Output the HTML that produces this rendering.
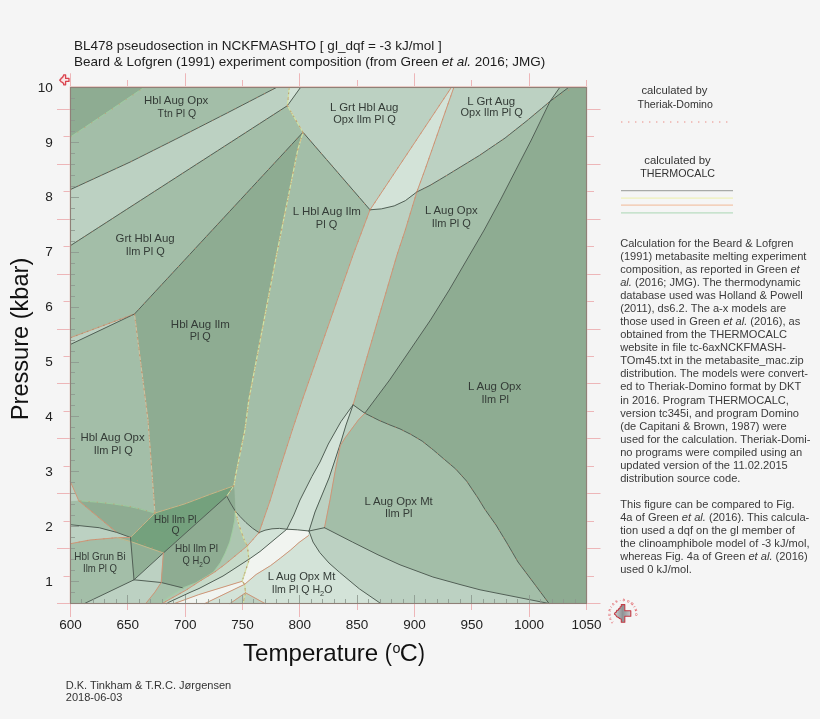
<!DOCTYPE html>
<html><head><meta charset="utf-8"><title>BL478 pseudosection</title>
<style>
html,body{margin:0;padding:0;background:#f5f5f5;}
body{width:820px;height:719px;position:relative;overflow:hidden;font-family:"Liberation Sans",Arial,sans-serif;color:#222;}
</style></head><body>
<svg width="820" height="719" viewBox="0 0 820 719" style="position:absolute;left:0;top:0;will-change:transform">
<g shape-rendering="geometricPrecision">
<polygon points="70.5,87.5 586.5,87.5 586.5,603.5 70.5,603.5" fill="#8eac92" stroke="#8eac92" stroke-width="0.3"/>
<polygon points="70.5,137.0 144.0,87.5 276.4,87.5 230.0,111.5 180.0,137.0 130.0,162.1 70.5,189.5" fill="#a3bea8" stroke="#a3bea8" stroke-width="0.3"/>
<polygon points="70.5,189.5 130.0,162.1 180.0,137.0 230.0,111.5 276.4,87.5 289.2,87.5 287.4,105.7 70.5,245.6" fill="#bcd1c2" stroke="#bcd1c2" stroke-width="0.3"/>
<polygon points="289.2,87.5 300.5,87.5 287.4,105.7" fill="#d3e3d8" stroke="#d3e3d8" stroke-width="0.3"/>
<polygon points="300.5,87.5 451.3,87.5 370.0,209.8 303.0,132.3 287.4,105.7" fill="#bcd1c2" stroke="#bcd1c2" stroke-width="0.3"/>
<polygon points="70.5,245.6 287.4,105.7 303.0,132.3 134.5,314.0 70.5,337.7" fill="#a3bea8" stroke="#a3bea8" stroke-width="0.3"/>
<polygon points="70.5,337.7 134.5,314.0 70.5,344.4" fill="#bcd1c2" stroke="#bcd1c2" stroke-width="0.3"/>
<polygon points="303.0,132.3 370.0,209.8 353.0,255.0 302.3,400.0 292.3,430.0 279.4,470.0 270.3,500.0 259.0,532.6 252.5,528.2 246.0,522.6 240.0,516.5 235.3,511.1 234.4,493.0 233.9,485.8 235.7,475.0 244.9,430.0 248.8,400.0 276.5,255.0 297.7,150.0 303.0,132.3" fill="#a3bea8" stroke="#a3bea8" stroke-width="0.3"/>
<polygon points="370.0,209.8 381.3,208.9 394.2,205.9 405.3,200.7 416.8,192.0 424.9,170.0 453.8,87.5 451.3,87.5" fill="#d3e3d8" stroke="#d3e3d8" stroke-width="0.3"/>
<polygon points="370.0,209.8 381.3,208.9 394.2,205.9 405.3,200.7 416.8,192.0 405.3,230.0 397.0,255.0 360.3,380.0 353.1,404.8 340.9,421.7 328.3,444.0 320.0,462.0 311.9,476.5 300.0,500.0 293.8,515.0 286.8,529.2 279.5,528.4 272.0,528.8 265.0,530.2 259.0,532.6 270.3,500.0 279.4,470.0 292.3,430.0 302.3,400.0 353.0,255.0 370.0,209.8" fill="#bcd1c2" stroke="#bcd1c2" stroke-width="0.3"/>
<polygon points="353.1,404.8 340.9,421.7 328.3,444.0 320.0,462.0 311.9,476.5 300.0,500.0 293.8,515.0 286.8,529.2 297.3,529.8 309.0,531.0 315.0,512.0 322.0,495.0 329.0,478.0 335.0,460.0 341.5,440.0 346.0,425.0 353.1,404.8" fill="#d3e3d8" stroke="#d3e3d8" stroke-width="0.3"/>
<polygon points="353.1,404.8 364.8,413.2 358.3,420.0 345.0,438.0 340.3,445.7 335.1,471.5 330.0,500.0 324.5,527.7 309.0,531.0 315.0,512.0 322.0,495.0 329.0,478.0 335.0,460.0 341.5,440.0 346.0,425.0 353.1,404.8" fill="#bcd1c2" stroke="#bcd1c2" stroke-width="0.3"/>
<polygon points="416.8,192.0 430.0,185.4 446.6,175.5 479.5,155.4 505.1,138.0 527.1,120.6 550.0,101.4 531.3,140.0 500.4,200.0 484.2,230.0 469.6,255.0 449.2,290.0 430.5,320.0 410.1,350.0 389.6,380.0 364.8,413.2 353.1,404.8 360.3,380.0 397.0,255.0 405.3,230.0 416.8,192.0" fill="#a3bea8" stroke="#a3bea8" stroke-width="0.3"/>
<polygon points="416.8,192.0 424.9,170.0 453.8,87.5 559.7,87.5 550.0,101.4 527.1,120.6 505.1,138.0 479.5,155.4 446.6,175.5 430.0,185.4 416.8,192.0" fill="#bcd1c2" stroke="#bcd1c2" stroke-width="0.3"/>
<polygon points="550.0,101.4 559.7,87.5 568.5,87.5" fill="#a3bea8" stroke="#a3bea8" stroke-width="0.3"/>
<polygon points="364.8,413.2 378.9,420.3 390.0,425.0 400.0,428.9 411.1,434.5 422.2,441.1 433.4,450.0 444.5,459.5 455.6,468.9 466.7,481.2 477.9,497.9 485.0,509.5 496.0,525.0 506.8,542.8 518.0,562.0 533.0,582.0 549.0,603.5 480.0,589.8 460.0,584.5 432.9,577.0 400.0,564.8 378.0,554.8 352.4,542.0 324.5,527.7 330.0,500.0 335.1,471.5 340.3,445.7 345.0,438.0 358.3,420.0" fill="#a3bea8" stroke="#a3bea8" stroke-width="0.3"/>
<polygon points="309.0,531.0 324.5,527.7 352.4,542.0 378.0,554.8 400.0,564.8 432.9,577.0 460.0,584.5 480.0,589.8 549.0,603.5 380.8,603.5 359.3,588.8 339.5,572.3 329.0,563.0 319.8,552.6 313.0,542.0 309.0,531.0" fill="#bcd1c2" stroke="#bcd1c2" stroke-width="0.3"/>
<polygon points="70.5,344.4 134.5,314.0 148.0,420.0 155.0,513.0 140.3,509.1 130.0,506.6 115.0,504.2 99.2,502.3 78.8,500.8 70.5,481.8" fill="#a3bea8" stroke="#a3bea8" stroke-width="0.3"/>
<polygon points="70.5,481.8 78.8,500.8 70.5,501.8" fill="#bcd1c2" stroke="#bcd1c2" stroke-width="0.3"/>
<polygon points="70.5,501.8 78.8,500.8 116.7,532.4 99.2,527.7 70.5,524.7" fill="#a3bea8" stroke="#a3bea8" stroke-width="0.3"/>
<polygon points="155.0,513.0 140.3,509.1 130.0,506.6 115.0,504.2 99.2,502.3 78.8,500.8 116.7,532.4 130.5,537.4" fill="#8eac92" stroke="#8eac92" stroke-width="0.3"/>
<polygon points="70.5,524.7 99.2,527.7 116.7,532.4 130.5,537.4 116.7,537.7 90.0,540.0 70.5,543.7" fill="#bcd1c2" stroke="#bcd1c2" stroke-width="0.3"/>
<polygon points="70.5,543.7 90.0,540.0 116.7,537.7 130.5,537.4 134.0,579.8 84.6,603.5 70.5,603.5" fill="#a3bea8" stroke="#a3bea8" stroke-width="0.3"/>
<polygon points="155.0,513.0 185.0,503.8 210.0,494.4 233.9,485.8 226.7,496.2 163.4,553.0 130.8,541.6 130.5,537.4" fill="#74a17d" stroke="#74a17d" stroke-width="0.3"/>
<polygon points="117.3,537.6 130.5,537.4 130.8,541.6 163.4,553.0 134.0,579.8 131.6,541.8" fill="#90af95" stroke="#90af95" stroke-width="0.3"/>
<polygon points="163.4,553.0 161.2,582.5 134.0,579.8" fill="#bcd1c2" stroke="#bcd1c2" stroke-width="0.3"/>
<polygon points="134.0,579.8 161.2,582.5 155.0,592.0 145.8,603.5 84.6,603.5" fill="#bcd1c2" stroke="#bcd1c2" stroke-width="0.3"/>
<polygon points="161.2,582.5 182.9,587.9 159.4,603.5 145.8,603.5 155.0,592.0" fill="#a6c1aa" stroke="#a6c1aa" stroke-width="0.3"/>
<polygon points="233.9,485.8 235.3,511.1 234.8,520.0 232.8,530.0 229.8,542.0 225.3,553.0 220.3,562.9 213.5,572.0 206.3,576.6 195.5,583.0 182.9,587.9 161.2,582.5 163.4,553.0 226.7,496.2" fill="#8eac92" stroke="#8eac92" stroke-width="0.3"/>
<polygon points="235.3,511.1 239.0,525.0 244.3,540.0 247.4,545.8 225.0,564.3 214.6,572.1 200.0,581.0 186.6,589.8 162.2,603.5 159.4,603.5 170.0,596.0 182.9,587.9 195.5,583.0 206.3,576.6 213.5,572.0 220.3,562.9 225.3,553.0 229.8,542.0 232.8,530.0 234.8,520.0" fill="#acc6b0" stroke="#acc6b0" stroke-width="0.3"/>
<polygon points="235.3,511.1 240.0,516.5 246.0,522.6 252.5,528.2 259.0,532.6 247.4,545.8 244.3,540.0 239.0,525.0" fill="#bcd1c2" stroke="#bcd1c2" stroke-width="0.3"/>
<polygon points="259.0,532.6 265.0,530.2 272.0,528.8 279.5,528.4 286.8,529.2 260.0,551.5 250.0,558.5 230.0,571.5 223.0,576.0 199.0,588.5 190.0,592.4 168.3,602.5 167.0,603.5 162.2,603.5 186.6,589.8 200.0,581.0 214.6,572.1 225.0,564.3 247.4,545.8" fill="#c6dac9" stroke="#c6dac9" stroke-width="0.3"/>
<polygon points="259.0,532.6 265.0,530.2 272.0,528.8 279.5,528.4 286.8,529.2 260.0,551.5 250.0,558.5 247.4,545.8" fill="#d3e3d8" stroke="#d3e3d8" stroke-width="0.3"/>
<polygon points="286.8,529.2 297.3,529.8 309.0,531.0 308.5,535.6 299.0,542.5 290.6,550.0 280.5,558.0 270.6,565.6 256.1,574.5 244.7,584.3 204.9,603.5 174.4,603.5 198.8,594.6 242.1,581.3 248.9,560.4 250.0,558.5 260.0,551.5" fill="#f1f4f0" stroke="#f1f4f0" stroke-width="0.3"/>
<polygon points="250.0,558.5 230.0,571.5 223.0,576.0 199.0,588.5 190.0,592.4 168.3,602.5 167.0,603.5 174.4,603.5 198.8,594.6 242.1,581.3 248.9,560.4" fill="#d6e5d9" stroke="#d6e5d9" stroke-width="0.3"/>
<polygon points="309.0,531.0 313.0,542.0 319.8,552.6 329.0,563.0 339.5,572.3 359.3,588.8 380.7,603.5 265.0,603.5 245.5,592.8 244.7,584.3 256.1,574.5 270.6,565.6 280.5,558.0 290.6,550.0 299.0,542.5 308.5,535.6" fill="#d3e3d8" stroke="#d3e3d8" stroke-width="0.3"/>
<polygon points="244.7,584.3 245.5,592.8 230.1,603.5 204.9,603.5" fill="#d3e3d8" stroke="#d3e3d8" stroke-width="0.3"/>
<polygon points="245.5,592.8 265.0,603.5 230.1,603.5" fill="#bcd1c2" stroke="#bcd1c2" stroke-width="0.3"/>
</g>
<g fill="none" stroke-linejoin="round" stroke-linecap="round">
<path d="M70.5,137.0 L144.0,87.5" stroke="#9fd09f" stroke-width="0.8"/>
<path d="M70.5,189.5 L130.0,162.1 L180.0,137.0 L230.0,111.5 L276.4,87.5" stroke="#526056" stroke-width="1.0"/>
<path d="M70.5,245.6 L287.4,105.7" stroke="#526056" stroke-width="1.0"/>
<path d="M287.4,105.7 L300.5,87.5" stroke="#526056" stroke-width="1.0"/>
<path d="M287.4,105.7 L289.2,87.5" stroke="#d2e3a4" stroke-width="1.2"/>
<path d="M287.4,105.7 L303.0,132.3" stroke="#d2e3a4" stroke-width="1.2"/>
<path d="M303.0,132.3 L134.5,314.0" stroke="#526056" stroke-width="1.0"/>
<path d="M303.0,132.3 L370.0,209.8" stroke="#526056" stroke-width="1.0"/>
<path d="M303.0,132.3 L297.7,150.0 L276.5,255.0 L248.8,400.0 L244.9,430.0 L235.7,475.0 L233.9,485.8" stroke="#d2e3a4" stroke-width="1.2"/>
<path d="M134.5,314.0 L148.0,420.0 L155.0,513.0" stroke="#d6c3a0" stroke-width="0.9"/>
<path d="M70.5,337.7 L134.5,314.0" stroke="#d09678" stroke-width="0.9"/>
<path d="M134.5,314.0 L70.5,344.4" stroke="#526056" stroke-width="1.0"/>
<path d="M370.0,209.8 L451.3,87.5" stroke="#d09678" stroke-width="1.0"/>
<path d="M370.0,209.8 L353.0,255.0 L302.3,400.0 L292.3,430.0 L279.4,470.0 L270.3,500.0 L259.0,532.6" stroke="#d09678" stroke-width="1.0"/>
<path d="M370.0,209.8 L381.3,208.9 L394.2,205.9 L405.3,200.7 L416.8,192.0" stroke="#526056" stroke-width="1.0"/>
<path d="M453.8,87.5 L424.9,170.0 L416.8,192.0 L405.3,230.0 L397.0,255.0 L360.3,380.0 L353.1,404.8" stroke="#d09678" stroke-width="1.0"/>
<path d="M416.8,192.0 L430.0,185.4 L446.6,175.5 L479.5,155.4 L505.1,138.0 L527.1,120.6 L550.0,101.4 L568.5,87.5" stroke="#526056" stroke-width="1.0"/>
<path d="M559.7,87.5 L550.0,101.4 L531.3,140.0 L500.4,200.0 L484.2,230.0 L469.6,255.0 L449.2,290.0 L430.5,320.0 L410.1,350.0 L389.6,380.0 L364.8,413.2" stroke="#526056" stroke-width="1.0"/>
<path d="M353.1,404.8 L364.8,413.2" stroke="#526056" stroke-width="1.0"/>
<path d="M353.1,404.8 L340.9,421.7 L328.3,444.0 L320.0,462.0 L311.9,476.5 L300.0,500.0 L293.8,515.0 L286.8,529.2" stroke="#526056" stroke-width="1.0"/>
<path d="M353.1,404.8 L346.0,425.0 L341.5,440.0 L335.0,460.0 L329.0,478.0 L322.0,495.0 L315.0,512.0 L309.0,531.0" stroke="#526056" stroke-width="1.0"/>
<path d="M364.8,413.2 L358.3,420.0 L345.0,438.0 L340.3,445.7 L335.1,471.5 L330.0,500.0 L324.5,527.7" stroke="#d09678" stroke-width="1.0"/>
<path d="M364.8,413.2 L378.9,420.3 L390.0,425.0 L400.0,428.9 L411.1,434.5 L422.2,441.1 L433.4,450.0 L444.5,459.5 L455.6,468.9 L466.7,481.2 L477.9,497.9 L485.0,509.5 L496.0,525.0 L506.8,542.8 L518.0,562.0 L533.0,582.0 L549.0,603.5" stroke="#526056" stroke-width="1.0"/>
<path d="M324.5,527.7 L352.4,542.0 L378.0,554.8 L400.0,564.8 L432.9,577.0 L460.0,584.5 L480.0,589.8 L549.0,603.5" stroke="#526056" stroke-width="1.0"/>
<path d="M309.0,531.0 L313.0,542.0 L319.8,552.6 L329.0,563.0 L339.5,572.3 L359.3,588.8 L380.7,603.5" stroke="#526056" stroke-width="1.0"/>
<path d="M309.0,531.0 L324.5,527.7" stroke="#526056" stroke-width="1.0"/>
<path d="M70.5,481.8 L78.8,500.8" stroke="#d09678" stroke-width="1.0"/>
<path d="M155.0,513.0 L140.3,509.1 L130.0,506.6 L115.0,504.2 L99.2,502.3 L78.8,500.8" stroke="#9fd09f" stroke-width="0.8"/>
<path d="M78.8,500.8 L116.7,532.4" stroke="#d09678" stroke-width="1.0"/>
<path d="M70.5,524.7 L99.2,527.7 L116.7,532.4 L130.5,537.4" stroke="#526056" stroke-width="1.0"/>
<path d="M70.5,543.7 L90.0,540.0 L116.7,537.7 L130.5,537.4" stroke="#d09678" stroke-width="1.0"/>
<path d="M155.0,513.0 L130.5,537.4" stroke="#c4b88a" stroke-width="1.0"/>
<path d="M117.3,537.6 L130.8,541.6 L163.4,553.0" stroke="#c4b88a" stroke-width="1.0"/>
<path d="M130.5,537.4 L134.0,579.8" stroke="#526056" stroke-width="1.0"/>
<path d="M226.7,496.2 L163.4,553.0 L134.0,579.8 L84.6,603.5" stroke="#526056" stroke-width="1.0"/>
<path d="M163.4,553.0 L161.2,582.5" stroke="#d09678" stroke-width="1.0"/>
<path d="M134.0,579.8 L161.2,582.5 L182.9,587.9" stroke="#526056" stroke-width="1.0"/>
<path d="M161.2,582.5 L155.0,592.0 L145.8,603.5" stroke="#d09678" stroke-width="1.0"/>
<path d="M233.9,485.8 L210.0,494.4 L185.0,503.8 L155.0,513.0" stroke="#c4b88a" stroke-width="1.0"/>
<path d="M233.9,485.8 L226.7,496.2" stroke="#d2e3a4" stroke-width="1.0"/>
<path d="M226.7,496.2 L231.0,504.0 L235.3,511.1 L240.0,516.5 L246.0,522.6 L252.5,528.2 L259.0,532.6" stroke="#526056" stroke-width="1.0"/>
<path d="M235.3,511.1 L234.8,520.0 L232.8,530.0 L229.8,542.0 L225.3,553.0 L220.3,562.9 L213.5,572.0 L206.3,576.6 L195.5,583.0 L182.9,587.9 L170.0,596.0 L159.4,603.5" stroke="#9fd09f" stroke-width="0.8"/>
<path d="M235.3,511.1 L239.0,525.0 L244.3,540.0 L247.4,545.8 L248.9,560.4 L242.1,581.3 L244.7,584.3 L245.5,592.8 L243.0,603.5" stroke="#d2e3a4" stroke-width="1.2"/>
<path d="M259.0,532.6 L247.4,545.8 L225.0,564.3 L214.6,572.1 L200.0,581.0 L186.6,589.8 L162.2,603.5" stroke="#d09678" stroke-width="1.0"/>
<path d="M286.8,529.2 L260.0,551.5 L250.0,558.5 L230.0,571.5 L223.0,576.0 L199.0,588.5 L190.0,592.4 L168.3,602.5 L167.0,603.5" stroke="#526056" stroke-width="1.0"/>
<path d="M259.0,532.6 L265.0,530.2 L272.0,528.8 L279.5,528.4 L286.8,529.2 L297.3,529.8 L309.0,531.0" stroke="#526056" stroke-width="1.0"/>
<path d="M308.5,535.6 L299.0,542.5 L290.6,550.0 L280.5,558.0 L270.6,565.6 L256.1,574.5 L244.7,584.3" stroke="#d09678" stroke-width="1.0"/>
<path d="M242.1,581.3 L198.8,594.6 L174.4,603.5" stroke="#d09678" stroke-width="1.0"/>
<path d="M244.7,584.3 L204.9,603.5" stroke="#d09678" stroke-width="1.0"/>
<path d="M245.5,592.8 L230.1,603.5" stroke="#d09678" stroke-width="1.0"/>
<path d="M245.5,592.8 L265.0,603.5" stroke="#d09678" stroke-width="1.0"/>
</g>
<g fill="none" stroke="#cf8a66" stroke-width="1.1" stroke-dasharray="1.3 7" opacity="0.55">
<path d="M70.5,137.0 L144.0,87.5"/>
<path d="M70.5,189.5 L130.0,162.1 L180.0,137.0 L230.0,111.5 L276.4,87.5"/>
<path d="M70.5,245.6 L287.4,105.7 L289.2,87.5"/>
<path d="M287.4,105.7 L303.0,132.3 L370.0,209.8"/>
<path d="M303.0,132.3 L134.5,314.0"/>
<path d="M303.0,132.3 L297.7,150.0 L276.5,255.0 L248.8,400.0 L244.9,430.0 L235.7,475.0 L233.9,485.8"/>
<path d="M134.5,314.0 L148.0,420.0 L155.0,513.0"/>
<path d="M416.8,192.0 L430.0,185.4 L446.6,175.5 L479.5,155.4 L505.1,138.0 L527.1,120.6 L550.0,101.4 L572.8,87.5"/>
<path d="M364.8,413.2 L378.9,420.3 L390.0,425.0 L400.0,428.9 L411.1,434.5 L422.2,441.1 L433.4,450.0 L444.5,459.5 L455.6,468.9 L466.7,481.2 L477.9,497.9 L485.0,509.5 L496.0,525.0 L506.8,542.8 L518.0,562.0 L533.0,582.0 L549.0,603.5"/>
<path d="M155.0,513.0 L140.3,509.1 L130.0,506.6 L115.0,504.2 L99.2,502.3 L78.8,500.8"/>
<path d="M78.8,500.8 L116.7,532.4"/>
<path d="M70.5,543.7 L90.0,540.0 L116.7,537.7"/>
<path d="M155.0,513.0 L130.5,537.4 L163.4,553.0"/>
<path d="M233.9,485.8 L210.0,494.4 L185.0,503.8 L155.0,513.0"/>
<path d="M259.0,532.6 L247.4,545.8 L225.0,564.3 L214.6,572.1 L200.0,581.0 L186.6,589.8 L162.2,603.5"/>
<path d="M235.3,511.1 L239.0,525.0 L244.3,540.0 L247.4,545.8 L248.9,560.4 L242.1,581.3 L244.7,584.3 L245.5,592.8 L243.0,603.5"/>
<path d="M453.8,87.5 L424.9,170.0 L416.8,192.0 L405.3,230.0 L397.0,255.0 L360.3,380.0 L353.1,404.8"/>
<path d="M370.0,209.8 L353.0,255.0 L302.3,400.0 L292.3,430.0 L279.4,470.0 L270.3,500.0 L259.0,532.6"/>
<path d="M370.0,209.8 L451.3,87.5"/>
</g>
<g fill="none" stroke="#b08c66" stroke-width="1.1" stroke-dasharray="1.6 4.2" opacity="0.75">
<path d="M287.4,105.7 L289.2,87.5"/>
<path d="M287.4,105.7 L303.0,132.3"/>
<path d="M303.0,132.3 L297.7,150.0 L276.5,255.0 L248.8,400.0 L244.9,430.0 L235.7,475.0 L233.9,485.8"/>
<path d="M235.3,511.1 L239.0,525.0 L244.3,540.0 L247.4,545.8 L248.9,560.4 L242.1,581.3 L244.7,584.3 L245.5,592.8 L243.0,603.5"/>
<path d="M233.9,485.8 L226.7,496.2"/>
<path d="M134.5,314.0 L148.0,420.0 L155.0,513.0"/>
<path d="M70.5,337.7 L134.5,314.0"/>
</g>
<g stroke="#8d998f" stroke-width="1" opacity="0.85"><line x1="70.5" y1="98.5" x2="75.0" y2="98.5"/><line x1="70.5" y1="109.5" x2="75.0" y2="109.5"/><line x1="70.5" y1="120.5" x2="75.0" y2="120.5"/><line x1="70.5" y1="131.5" x2="75.0" y2="131.5"/><line x1="70.5" y1="142.5" x2="79.0" y2="142.5"/><line x1="70.5" y1="153.5" x2="75.0" y2="153.5"/><line x1="70.5" y1="164.5" x2="75.0" y2="164.5"/><line x1="70.5" y1="175.5" x2="75.0" y2="175.5"/><line x1="70.5" y1="186.5" x2="75.0" y2="186.5"/><line x1="70.5" y1="197.5" x2="79.0" y2="197.5"/><line x1="70.5" y1="208.5" x2="75.0" y2="208.5"/><line x1="70.5" y1="219.5" x2="75.0" y2="219.5"/><line x1="70.5" y1="230.5" x2="75.0" y2="230.5"/><line x1="70.5" y1="241.5" x2="75.0" y2="241.5"/><line x1="70.5" y1="252.5" x2="79.0" y2="252.5"/><line x1="70.5" y1="263.5" x2="75.0" y2="263.5"/><line x1="70.5" y1="274.5" x2="75.0" y2="274.5"/><line x1="70.5" y1="285.5" x2="75.0" y2="285.5"/><line x1="70.5" y1="296.5" x2="75.0" y2="296.5"/><line x1="70.5" y1="307.5" x2="79.0" y2="307.5"/><line x1="70.5" y1="318.5" x2="75.0" y2="318.5"/><line x1="70.5" y1="329.5" x2="75.0" y2="329.5"/><line x1="70.5" y1="340.5" x2="75.0" y2="340.5"/><line x1="70.5" y1="351.5" x2="75.0" y2="351.5"/><line x1="70.5" y1="362.5" x2="79.0" y2="362.5"/><line x1="70.5" y1="372.5" x2="75.0" y2="372.5"/><line x1="70.5" y1="383.5" x2="75.0" y2="383.5"/><line x1="70.5" y1="394.5" x2="75.0" y2="394.5"/><line x1="70.5" y1="405.5" x2="75.0" y2="405.5"/><line x1="70.5" y1="416.5" x2="79.0" y2="416.5"/><line x1="70.5" y1="427.5" x2="75.0" y2="427.5"/><line x1="70.5" y1="438.5" x2="75.0" y2="438.5"/><line x1="70.5" y1="449.5" x2="75.0" y2="449.5"/><line x1="70.5" y1="460.5" x2="75.0" y2="460.5"/><line x1="70.5" y1="471.5" x2="79.0" y2="471.5"/><line x1="70.5" y1="482.5" x2="75.0" y2="482.5"/><line x1="70.5" y1="493.5" x2="75.0" y2="493.5"/><line x1="70.5" y1="504.5" x2="75.0" y2="504.5"/><line x1="70.5" y1="515.5" x2="75.0" y2="515.5"/><line x1="70.5" y1="526.5" x2="79.0" y2="526.5"/><line x1="70.5" y1="537.5" x2="75.0" y2="537.5"/><line x1="70.5" y1="548.5" x2="75.0" y2="548.5"/><line x1="70.5" y1="559.5" x2="75.0" y2="559.5"/><line x1="70.5" y1="570.5" x2="75.0" y2="570.5"/><line x1="70.5" y1="581.5" x2="79.0" y2="581.5"/><line x1="70.5" y1="592.5" x2="75.0" y2="592.5"/><line x1="81.5" y1="603.5" x2="81.5" y2="599.0"/><line x1="93.5" y1="603.5" x2="93.5" y2="599.0"/><line x1="104.5" y1="603.5" x2="104.5" y2="599.0"/><line x1="116.5" y1="603.5" x2="116.5" y2="599.0"/><line x1="127.5" y1="603.5" x2="127.5" y2="595.0"/><line x1="139.5" y1="603.5" x2="139.5" y2="599.0"/><line x1="150.5" y1="603.5" x2="150.5" y2="599.0"/><line x1="162.5" y1="603.5" x2="162.5" y2="599.0"/><line x1="173.5" y1="603.5" x2="173.5" y2="599.0"/><line x1="185.5" y1="603.5" x2="185.5" y2="595.0"/><line x1="196.5" y1="603.5" x2="196.5" y2="599.0"/><line x1="208.5" y1="603.5" x2="208.5" y2="599.0"/><line x1="219.5" y1="603.5" x2="219.5" y2="599.0"/><line x1="231.5" y1="603.5" x2="231.5" y2="599.0"/><line x1="242.5" y1="603.5" x2="242.5" y2="595.0"/><line x1="253.5" y1="603.5" x2="253.5" y2="599.0"/><line x1="265.5" y1="603.5" x2="265.5" y2="599.0"/><line x1="276.5" y1="603.5" x2="276.5" y2="599.0"/><line x1="288.5" y1="603.5" x2="288.5" y2="599.0"/><line x1="299.5" y1="603.5" x2="299.5" y2="595.0"/><line x1="311.5" y1="603.5" x2="311.5" y2="599.0"/><line x1="322.5" y1="603.5" x2="322.5" y2="599.0"/><line x1="334.5" y1="603.5" x2="334.5" y2="599.0"/><line x1="345.5" y1="603.5" x2="345.5" y2="599.0"/><line x1="357.5" y1="603.5" x2="357.5" y2="595.0"/><line x1="368.5" y1="603.5" x2="368.5" y2="599.0"/><line x1="380.5" y1="603.5" x2="380.5" y2="599.0"/><line x1="391.5" y1="603.5" x2="391.5" y2="599.0"/><line x1="403.5" y1="603.5" x2="403.5" y2="599.0"/><line x1="414.5" y1="603.5" x2="414.5" y2="595.0"/><line x1="425.5" y1="603.5" x2="425.5" y2="599.0"/><line x1="437.5" y1="603.5" x2="437.5" y2="599.0"/><line x1="448.5" y1="603.5" x2="448.5" y2="599.0"/><line x1="460.5" y1="603.5" x2="460.5" y2="599.0"/><line x1="471.5" y1="603.5" x2="471.5" y2="595.0"/><line x1="483.5" y1="603.5" x2="483.5" y2="599.0"/><line x1="494.5" y1="603.5" x2="494.5" y2="599.0"/><line x1="506.5" y1="603.5" x2="506.5" y2="599.0"/><line x1="517.5" y1="603.5" x2="517.5" y2="599.0"/><line x1="529.5" y1="603.5" x2="529.5" y2="595.0"/><line x1="540.5" y1="603.5" x2="540.5" y2="599.0"/><line x1="552.5" y1="603.5" x2="552.5" y2="599.0"/><line x1="563.5" y1="603.5" x2="563.5" y2="599.0"/><line x1="575.5" y1="603.5" x2="575.5" y2="599.0"/></g>
<g stroke="#edb6b8" stroke-width="1"><line x1="57" y1="603.5" x2="70.5" y2="603.5"/><line x1="586.5" y1="603.5" x2="600.5" y2="603.5"/><line x1="63.5" y1="576.5" x2="70.5" y2="576.5"/><line x1="586.5" y1="576.5" x2="594" y2="576.5"/><line x1="57" y1="548.5" x2="70.5" y2="548.5"/><line x1="586.5" y1="548.5" x2="600.5" y2="548.5"/><line x1="63.5" y1="521.5" x2="70.5" y2="521.5"/><line x1="586.5" y1="521.5" x2="594" y2="521.5"/><line x1="57" y1="493.5" x2="70.5" y2="493.5"/><line x1="586.5" y1="493.5" x2="600.5" y2="493.5"/><line x1="63.5" y1="466.5" x2="70.5" y2="466.5"/><line x1="586.5" y1="466.5" x2="594" y2="466.5"/><line x1="57" y1="438.5" x2="70.5" y2="438.5"/><line x1="586.5" y1="438.5" x2="600.5" y2="438.5"/><line x1="63.5" y1="411.5" x2="70.5" y2="411.5"/><line x1="586.5" y1="411.5" x2="594" y2="411.5"/><line x1="57" y1="383.5" x2="70.5" y2="383.5"/><line x1="586.5" y1="383.5" x2="600.5" y2="383.5"/><line x1="63.5" y1="356.5" x2="70.5" y2="356.5"/><line x1="586.5" y1="356.5" x2="594" y2="356.5"/><line x1="57" y1="329.5" x2="70.5" y2="329.5"/><line x1="586.5" y1="329.5" x2="600.5" y2="329.5"/><line x1="63.5" y1="301.5" x2="70.5" y2="301.5"/><line x1="586.5" y1="301.5" x2="594" y2="301.5"/><line x1="57" y1="274.5" x2="70.5" y2="274.5"/><line x1="586.5" y1="274.5" x2="600.5" y2="274.5"/><line x1="63.5" y1="246.5" x2="70.5" y2="246.5"/><line x1="586.5" y1="246.5" x2="594" y2="246.5"/><line x1="57" y1="219.5" x2="70.5" y2="219.5"/><line x1="586.5" y1="219.5" x2="600.5" y2="219.5"/><line x1="63.5" y1="191.5" x2="70.5" y2="191.5"/><line x1="586.5" y1="191.5" x2="594" y2="191.5"/><line x1="57" y1="164.5" x2="70.5" y2="164.5"/><line x1="586.5" y1="164.5" x2="600.5" y2="164.5"/><line x1="63.5" y1="136.5" x2="70.5" y2="136.5"/><line x1="586.5" y1="136.5" x2="594" y2="136.5"/><line x1="57" y1="109.5" x2="70.5" y2="109.5"/><line x1="586.5" y1="109.5" x2="600.5" y2="109.5"/><line x1="70.5" y1="87.5" x2="70.5" y2="73.3"/><line x1="70.5" y1="603.5" x2="70.5" y2="617"/><line x1="127.5" y1="87.5" x2="127.5" y2="80"/><line x1="127.5" y1="603.5" x2="127.5" y2="610"/><line x1="185.5" y1="87.5" x2="185.5" y2="73.3"/><line x1="185.5" y1="603.5" x2="185.5" y2="617"/><line x1="242.5" y1="87.5" x2="242.5" y2="80"/><line x1="242.5" y1="603.5" x2="242.5" y2="610"/><line x1="299.5" y1="87.5" x2="299.5" y2="73.3"/><line x1="299.5" y1="603.5" x2="299.5" y2="617"/><line x1="357.5" y1="87.5" x2="357.5" y2="80"/><line x1="357.5" y1="603.5" x2="357.5" y2="610"/><line x1="414.5" y1="87.5" x2="414.5" y2="73.3"/><line x1="414.5" y1="603.5" x2="414.5" y2="617"/><line x1="471.5" y1="87.5" x2="471.5" y2="80"/><line x1="471.5" y1="603.5" x2="471.5" y2="610"/><line x1="529.5" y1="87.5" x2="529.5" y2="73.3"/><line x1="529.5" y1="603.5" x2="529.5" y2="617"/><line x1="586.5" y1="87.5" x2="586.5" y2="80"/><line x1="586.5" y1="603.5" x2="586.5" y2="610"/></g>
<rect x="70.2" y="86.5" width="516.6" height="517.0" fill="none" stroke="#efcfcb" stroke-width="1"/>
<rect x="70.5" y="87.5" width="516.0" height="516.0" fill="none" stroke="#8f8077" stroke-width="1.1"/>
<g font-family="Liberation Sans, Arial, sans-serif" fill="#343c37"><text x="144.07" y="104.2" font-size="11" textLength="64.25" lengthAdjust="spacingAndGlyphs">Hbl Aug Opx</text><text x="157.56" y="116.7" font-size="11" textLength="38.54" lengthAdjust="spacingAndGlyphs">Ttn Pl Q</text><text x="330.07" y="110.7" font-size="11" textLength="68.35" lengthAdjust="spacingAndGlyphs">L Grt Hbl Aug</text><text x="333.28" y="122.9" font-size="11" textLength="62.45" lengthAdjust="spacingAndGlyphs">Opx Ilm Pl Q</text><text x="467.28" y="104.5" font-size="11" textLength="47.94" lengthAdjust="spacingAndGlyphs">L Grt Aug</text><text x="460.48" y="116.4" font-size="11" textLength="62.35" lengthAdjust="spacingAndGlyphs">Opx Ilm Pl Q</text><text x="292.87" y="215.4" font-size="11" textLength="67.98" lengthAdjust="spacingAndGlyphs">L Hbl Aug Ilm</text><text x="315.80" y="228.3" font-size="11" textLength="21.43" lengthAdjust="spacingAndGlyphs">Pl Q</text><text x="425.09" y="214.1" font-size="11" textLength="52.63" lengthAdjust="spacingAndGlyphs">L Aug Opx</text><text x="431.78" y="226.9" font-size="11" textLength="39.14" lengthAdjust="spacingAndGlyphs">Ilm Pl Q</text><text x="115.53" y="241.8" font-size="11" textLength="59.20" lengthAdjust="spacingAndGlyphs">Grt Hbl Aug</text><text x="125.69" y="254.9" font-size="11" textLength="39.04" lengthAdjust="spacingAndGlyphs">Ilm Pl Q</text><text x="170.87" y="327.6" font-size="11" textLength="58.89" lengthAdjust="spacingAndGlyphs">Hbl Aug Ilm</text><text x="189.71" y="340.4" font-size="11" textLength="21.11" lengthAdjust="spacingAndGlyphs">Pl Q</text><text x="468.08" y="389.9" font-size="11" textLength="53.14" lengthAdjust="spacingAndGlyphs">L Aug Opx</text><text x="481.59" y="402.8" font-size="11" textLength="27.34" lengthAdjust="spacingAndGlyphs">Ilm Pl</text><text x="80.47" y="440.6" font-size="11" textLength="64.15" lengthAdjust="spacingAndGlyphs">Hbl Aug Opx</text><text x="93.69" y="453.6" font-size="11" textLength="39.04" lengthAdjust="spacingAndGlyphs">Ilm Pl Q</text><text x="364.48" y="504.6" font-size="11" textLength="68.30" lengthAdjust="spacingAndGlyphs">L Aug Opx Mt</text><text x="384.88" y="517.1" font-size="11" textLength="27.55" lengthAdjust="spacingAndGlyphs">Ilm Pl</text><text x="74.28" y="560.4" font-size="10.5" textLength="51.39" lengthAdjust="spacingAndGlyphs">Hbl Grun Bi</text><text x="83.02" y="572.0" font-size="10.5" textLength="33.94" lengthAdjust="spacingAndGlyphs">Ilm Pl Q</text><text x="154.09" y="522.7" font-size="10.3" textLength="42.48" lengthAdjust="spacingAndGlyphs">Hbl Ilm Pl</text><text x="171.51" y="534.4" font-size="10.3" textLength="8.09" lengthAdjust="spacingAndGlyphs">Q</text><text x="175.08" y="552.4" font-size="10.3" textLength="42.89" lengthAdjust="spacingAndGlyphs">Hbl Ilm Pl</text><text x="267.79" y="580.1" font-size="11" textLength="67.49" lengthAdjust="spacingAndGlyphs">L Aug Opx Mt</text><text x="196.4" y="563.7" font-size="10.2" text-anchor="middle" textLength="27.6" lengthAdjust="spacingAndGlyphs">Q H<tspan font-size="7" dy="3">2</tspan><tspan dy="-3">O</tspan></text><text x="302.1" y="592.8" font-size="10.6" text-anchor="middle">Ilm Pl Q H<tspan font-size="7.4" dy="3.5">2</tspan><tspan dy="-3.5">O</tspan></text></g>
<g font-family="Liberation Sans, Arial, sans-serif" font-size="13.5" fill="#222"><text x="70.5" y="629.4" text-anchor="middle">600</text><text x="127.8" y="629.4" text-anchor="middle">650</text><text x="185.2" y="629.4" text-anchor="middle">700</text><text x="242.5" y="629.4" text-anchor="middle">750</text><text x="299.8" y="629.4" text-anchor="middle">800</text><text x="357.1" y="629.4" text-anchor="middle">850</text><text x="414.5" y="629.4" text-anchor="middle">900</text><text x="471.8" y="629.4" text-anchor="middle">950</text><text x="529.1" y="629.4" text-anchor="middle">1000</text><text x="586.5" y="629.4" text-anchor="middle">1050</text><text x="52.9" y="585.7" text-anchor="end" font-size="13.6">1</text><text x="52.9" y="530.8" text-anchor="end" font-size="13.6">2</text><text x="52.9" y="475.9" text-anchor="end" font-size="13.6">3</text><text x="52.9" y="421.0" text-anchor="end" font-size="13.6">4</text><text x="52.9" y="366.1" text-anchor="end" font-size="13.6">5</text><text x="52.9" y="311.2" text-anchor="end" font-size="13.6">6</text><text x="52.9" y="256.3" text-anchor="end" font-size="13.6">7</text><text x="52.9" y="201.4" text-anchor="end" font-size="13.6">8</text><text x="52.9" y="146.5" text-anchor="end" font-size="13.6">9</text><text x="52.9" y="91.6" text-anchor="end" font-size="13.6">10</text></g>
<g font-family="Liberation Sans, Arial, sans-serif" fill="#111"><text x="242.97" y="660.9" font-size="24.4" textLength="135.28" lengthAdjust="spacingAndGlyphs">Temperature</text><text x="384.67" y="660.9" font-size="24.4" textLength="7.16" lengthAdjust="spacingAndGlyphs">(</text><text x="392.40" y="653.3" font-size="13.8" textLength="8.01" lengthAdjust="spacingAndGlyphs">o</text><text x="399.73" y="660.9" font-size="24.4" textLength="18.02" lengthAdjust="spacingAndGlyphs">C</text><text x="417.98" y="660.9" font-size="24.4" textLength="6.91" lengthAdjust="spacingAndGlyphs">)</text></g>
<text transform="translate(27.5,420.13) rotate(-90)" font-family="Liberation Sans, Arial, sans-serif" font-size="24.4" textLength="162.39" lengthAdjust="spacingAndGlyphs" fill="#111">Pressure (kbar)</text>
<g font-family="Liberation Sans, Arial, sans-serif" font-size="13.5" fill="#1c1c1c"><text x="74" y="49.5">BL478 pseudosection in NCKFMASHTO [ gl_dqf = -3 kJ/mol ]</text><text x="74" y="66">Beard &amp; Lofgren (1991) experiment composition (from Green <tspan font-style="italic">et al.</tspan> 2016; JMG)</text></g>
<g font-family="Liberation Sans, Arial, sans-serif" fill="#333"><text x="641.42" y="94.3" font-size="10.8" textLength="66.00" lengthAdjust="spacingAndGlyphs">calculated by</text><text x="637.46" y="107.5" font-size="10.8" textLength="75.48" lengthAdjust="spacingAndGlyphs">Theriak-Domino</text><text x="644.32" y="163.7" font-size="10.8" textLength="66.41" lengthAdjust="spacingAndGlyphs">calculated by</text><text x="640.16" y="176.6" font-size="10.8" textLength="74.95" lengthAdjust="spacingAndGlyphs">THERMOCALC</text></g>
<g font-family="Liberation Sans, Arial, sans-serif" font-size="11.1" fill="#3a3a3a"><text x="620.2" y="246.70">Calculation for the Beard &amp; Lofgren</text><text x="620.2" y="259.77">(1991) metabasite melting experiment</text><text x="620.2" y="272.84">composition, as reported in Green <tspan font-style='italic'>et</tspan></text><text x="620.2" y="285.91"><tspan font-style='italic'>al.</tspan> (2016; JMG). The thermodynamic</text><text x="620.2" y="298.98">database used was Holland &amp; Powell</text><text x="620.2" y="312.05">(2011), ds6.2. The a-x models are</text><text x="620.2" y="325.12">those used in Green <tspan font-style='italic'>et al.</tspan> (2016), as</text><text x="620.2" y="338.19">obtained from the THERMOCALC</text><text x="620.2" y="351.26">website in file tc-6axNCKFMASH-</text><text x="620.2" y="364.33">TOm45.txt in the metabasite_mac.zip</text><text x="620.2" y="377.40">distribution. The models were convert-</text><text x="620.2" y="390.47">ed to Theriak-Domino format by DKT</text><text x="620.2" y="403.54">in 2016. Program THERMOCALC,</text><text x="620.2" y="416.61">version tc345i, and program Domino</text><text x="620.2" y="429.68">(de Capitani &amp; Brown, 1987) were</text><text x="620.2" y="442.75">used for the calculation. Theriak-Domi-</text><text x="620.2" y="455.82">no programs were compiled using an</text><text x="620.2" y="468.89">updated version of the 11.02.2015</text><text x="620.2" y="481.96">distribution source code.</text><text x="620.2" y="508.10">This figure can be compared to Fig.</text><text x="620.2" y="521.17">4a of Green <tspan font-style='italic'>et al.</tspan> (2016). This calcula-</text><text x="620.2" y="534.24">tion used a dqf on the gl member of</text><text x="620.2" y="547.31">the clinoamphibole model of -3 kJ/mol,</text><text x="620.2" y="560.38">whereas Fig. 4a of Green <tspan font-style='italic'>et al.</tspan> (2016)</text><text x="620.2" y="573.45">used 0 kJ/mol.</text></g>
<g font-family="Liberation Sans, Arial, sans-serif" font-size="11.05" fill="#333"><text x="65.7" y="688.8">D.K. Tinkham &amp; T.R.C. J&#248;rgensen</text><text x="65.8" y="701.3">2018-06-03</text></g>
<line x1="621" y1="122" x2="733" y2="122" stroke="#eeb0aa" stroke-width="1.3" stroke-dasharray="1.4 5.6"/>
<line x1="621" y1="190.6" x2="733" y2="190.6" stroke="#a8aaa8" stroke-width="1.2"/>
<line x1="621" y1="198.2" x2="733" y2="198.2" stroke="#eef0b8" stroke-width="1.2"/>
<line x1="621" y1="205.2" x2="733" y2="205.2" stroke="#f2c4a8" stroke-width="1.2"/>
<line x1="621" y1="212.8" x2="733" y2="212.8" stroke="#b8dcc0" stroke-width="1.2"/>
<g transform="translate(64.5,80) scale(0.56)"><path d="M-1.5,-9 L2,-9 L2,-2.8 L8,-2.8 L8,2.6 L2,2.6 L2,8.7 L-1.5,8.7 L-1.5,5.6 L-3.2,5 L-4.3,3.8 L-6,3.2 L-7,1.6 L-8.4,0.4 L-7.6,-1 L-6.4,-1.6 L-6,-3.2 L-4.6,-3.4 L-4,-5 L-3,-5 L-2.6,-6.8 L-1.5,-7.2 Z" fill="#fbe6e6" stroke="#d9434e" stroke-width="2.3" stroke-linejoin="round"/></g>
<g transform="translate(622.8,613.6)">
<defs><linearGradient id="lg" x1="0" y1="0" x2="1" y2="0"><stop offset="0" stop-color="#d0d2d4"/><stop offset="0.5" stop-color="#8e9294"/><stop offset="1" stop-color="#c4c6c8"/></linearGradient>
<path id="arcp" d="M-8.8,8.8 A12.4,12.4 0 1 1 8.8,8.8"/></defs>
<text font-family="Liberation Sans, Arial, sans-serif" font-size="3.4" fill="#e05a60" letter-spacing="1.55" font-weight="bold"><textPath href="#arcp">THERIAK-DOMINO</textPath></text>
<path d="M-1.5,-9 L2,-9 L2,-2.8 L8,-2.8 L8,2.6 L2,2.6 L2,8.7 L-1.5,8.7 L-1.5,5.6 L-3.2,5 L-4.3,3.8 L-6,3.2 L-7,1.6 L-8.4,0.4 L-7.6,-1 L-6.4,-1.6 L-6,-3.2 L-4.6,-3.4 L-4,-5 L-3,-5 L-2.6,-6.8 L-1.5,-7.2 Z" fill="url(#lg)" stroke="#c23a44" stroke-width="1.1" stroke-linejoin="round"/>
</g>
</svg>
</body></html>
